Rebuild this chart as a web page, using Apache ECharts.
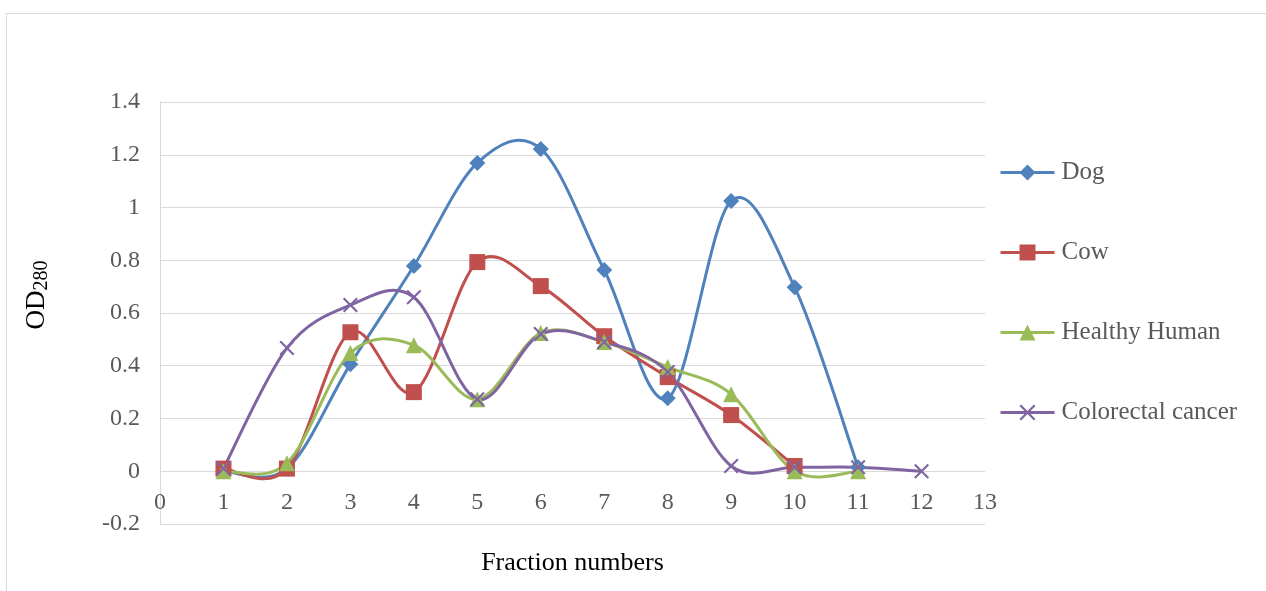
<!DOCTYPE html>
<html>
<head>
<meta charset="utf-8">
<script src="https://cdn.jsdelivr.net/npm/echarts@6/dist/echarts.min.js"></script>
<style>
html,body{margin:0;padding:0;background:#fff;}
#chart{width:1266px;height:591px;}
</style>
</head>
<body>
<div id="chart"></div>
<script>
const dog = [[1,0.00],[2,0.01],[3,0.406],[4,0.778],[5,1.169],[6,1.222],[7,0.763],[8,0.277],[9,1.025],[10,0.698],[11,0.015]];
const cow = [[1,0.01],[2,0.01],[3,0.527],[4,0.30],[5,0.793],[6,0.702],[7,0.512],[8,0.357],[9,0.213],[10,0.02]];
const healthy = [[1,0.00],[2,0.03],[3,0.448],[4,0.478],[5,0.273],[6,0.524],[7,0.49],[8,0.395],[9,0.292],[10,0.00],[11,0.00]];
const colorectal = [[1,0.01],[2,0.467],[3,0.63],[4,0.66],[5,0.273],[6,0.52],[7,0.49],[8,0.376],[9,0.02],[10,0.015],[11,0.015],[12,0.00]];
const seriesNames = ['Dog','Cow','Healthy Human','Colorectal cancer'];
const seriesColors = ['#4F81BD','#C0504D','#9BBB59','#8064A2'];

const FONT = '"Liberation Serif", "Times New Roman", serif';
const crossPath = 'path://M0,1 L1,0 L5,4 L9,0 L10,1 L6,5 L10,9 L9,10 L5,6 L1,10 L0,9 L4,5 Z';

// Smooth curve (Catmull-Rom style, as in spreadsheet "smoothed line") through points mapped by the axes
function curveSeries(name, data, color) {
  return {
    name: name + ' curve', type: 'custom', data: data, z: 2, silent: true,
    encode: {x: 0, y: 1},
    renderItem: function(params, api) {
      if (params.dataIndex !== 0) return null;
      const p = data.map(function(d){ return api.coord(d); });
      const children = [];
      for (let i = 0; i < p.length - 1; i++) {
        const p0 = p[i - 1] || p[i], p1 = p[i], p2 = p[i + 1], p3 = p[i + 2] || p[i + 1];
        children.push({
          type: 'bezierCurve',
          shape: {
            x1: p1[0], y1: p1[1], x2: p2[0], y2: p2[1],
            cpx1: p1[0] + (p2[0] - p0[0]) / 6, cpy1: p1[1] + (p2[1] - p0[1]) / 6,
            cpx2: p2[0] - (p3[0] - p1[0]) / 6, cpy2: p2[1] - (p3[1] - p1[1]) / 6
          },
          style: {stroke: color, lineWidth: 3, fill: null, lineCap: 'round'}
        });
      }
      return {type: 'group', children: children};
    }
  };
}

function markSeries(name, data, color, symbol, size) {
  return {
    name: name, type: 'line', data: data,
    symbol: symbol, symbolSize: size, showSymbol: true,
    lineStyle: {color: color, width: 3, opacity: 0},
    itemStyle: {color: color},
    z: 3
  };
}

const chart = echarts.init(document.getElementById('chart'));
chart.setOption({
  animation: false,
  backgroundColor: '#fff',
  graphic: [{
    type: 'rect', left: 4, top: 11, shape: {width: 1300, height: 620},
    style: {fill: 'none', stroke: '#d9d9d9', lineWidth: 1}, silent: true, z: -1
  }],
  grid: {left: 160, right: 281, top: 102, bottom: 67, outerBoundsMode: 'none', containLabel: false},
  xAxis: {
    type: 'value', min: 0, max: 13, interval: 1,
    axisLine: {show: false},
    axisTick: {show: false},
    splitLine: {show: false},
    axisLabel: {color: '#595959', fontFamily: FONT, fontSize: 24, margin: -33},
    name: 'Fraction numbers', nameLocation: 'middle', nameGap: 26,
    nameTextStyle: {color: '#000', fontFamily: FONT, fontSize: 26}
  },
  yAxis: {
    type: 'value', min: -0.2, max: 1.4, interval: 0.2,
    axisLine: {show: true, lineStyle: {color: '#d9d9d9'}},
    axisTick: {show: false},
    splitLine: {show: true, lineStyle: {color: '#d9d9d9', width: 1}},
    axisLabel: {color: '#595959', fontFamily: FONT, fontSize: 24, margin: 20,
      formatter: function(v){ return String(Math.round(v*10)/10); }},
    name: 'OD{sub|280}', nameLocation: 'middle', nameGap: 108, nameRotate: 90,
    nameTextStyle: {color: '#000', fontFamily: FONT, fontSize: 27, padding: [0,0,0,36],
      rich: {sub: {fontFamily: FONT, fontSize: 20, color: '#000', verticalAlign: 'bottom', padding: [10,0,0,0]}}}
  },
  legend: {
    orient: 'vertical', left: 994, top: 155,
    itemWidth: 54, itemHeight: 20, itemGap: 55,
    data: seriesNames,
    lineStyle: {width: 3, opacity: 1},
    textStyle: {color: '#595959', fontFamily: FONT, fontSize: 25, lineHeight: 25, padding: [0,0,0,2]}
  },
  series: [
    curveSeries('Dog', dog, seriesColors[0]),
    curveSeries('Cow', cow, seriesColors[1]),
    curveSeries('Healthy Human', healthy, seriesColors[2]),
    curveSeries('Colorectal cancer', colorectal, seriesColors[3]),
    markSeries('Dog', dog, seriesColors[0], 'diamond', 16),
    markSeries('Cow', cow, seriesColors[1], 'rect', 16),
    markSeries('Healthy Human', healthy, seriesColors[2], 'triangle', 16),
    markSeries('Colorectal cancer', colorectal, seriesColors[3], crossPath, 15)
  ]
});
</script>
</body>
</html>
